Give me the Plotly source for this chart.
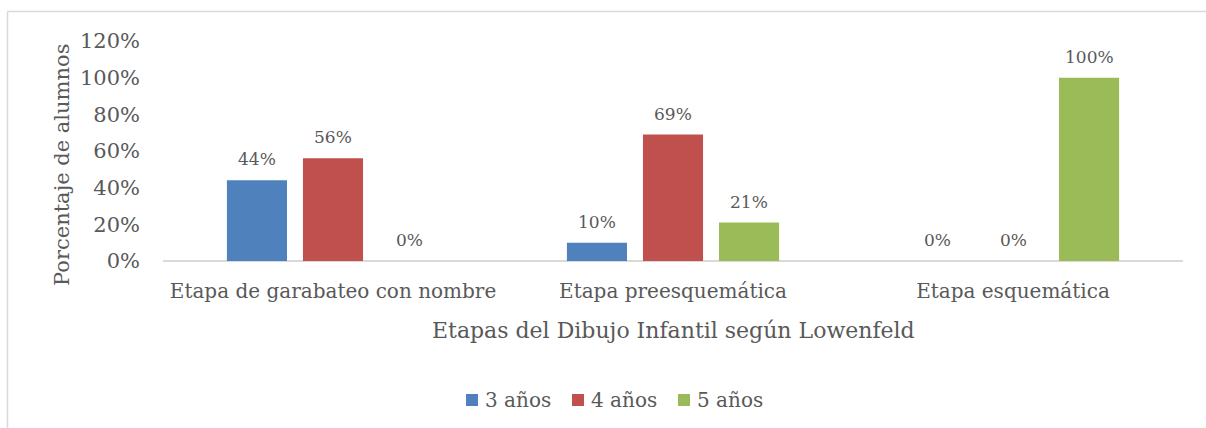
import plotly.graph_objects as go

# Stages (categories) and share of pupils per age group
etapas = ["Etapa de garabateo con nombre", "Etapa preesquemática", "Etapa esquemática"]
series_names = ["3 años", "4 años", "5 años"]
valores_3 = [0.44, 0.10, 0.00]
valores_4 = [0.56, 0.69, 0.00]
valores_5 = [0.00, 0.21, 1.00]
colores = ["#4f81bd", "#c0504d", "#9bbb59"]
y_ticks = [0, 0.2, 0.4, 0.6, 0.8, 1.0, 1.2]

FONT = "DejaVu Serif"
GRIS = "#595959"
BORDE = "#d9d9d9"

W, H = 1206, 428
L, R, T, B = 163, 23, 41, 167
pw, ph = W - L - R, H - T - B


def px_x(px):
    """pixel column -> paper x"""
    return (px - L) / pw


def px_y(py):
    """pixel row -> paper y"""
    return (H - B - py) / ph


series = list(zip(series_names, [valores_3, valores_4, valores_5], colores))

fig = go.Figure()
for nombre, vals, col in series:
    fig.add_trace(go.Bar(
        x=etapas, y=vals, name=nombre,
        marker=dict(color=col, line=dict(width=0)),
        showlegend=False,
    ))

# value labels above each bar (bar slot is 76 px wide inside a group)
slot = 76
for i, (nombre, vals, col) in enumerate(series):
    for cat, v in zip(etapas, vals):
        fig.add_annotation(
            x=cat, y=v, xref="x", yref="y",
            text=f"{v:.0%}", showarrow=False,
            xshift=(i - 1) * slot, yshift=9, yanchor="bottom",
            font=dict(family=FONT, size=17, color=GRIS),
        )

# axis titles
fig.add_annotation(
    x=0.5, y=px_y(330), xref="paper", yref="paper",
    text="Etapas del Dibujo Infantil según Lowenfeld", showarrow=False,
    xanchor="center", yanchor="middle",
    font=dict(family=FONT, size=22, color=GRIS),
)
fig.add_annotation(
    x=px_x(62), y=px_y(165), xref="paper", yref="paper",
    text="Porcentaje de alumnos", showarrow=False, textangle=-90,
    xanchor="center", yanchor="middle",
    font=dict(family=FONT, size=21, color=GRIS),
)

# legend: square swatch followed by the series name
leg_x = [466, 572, 678]
leg_y = 400
for (nombre, vals, col), lx in zip(series, leg_x):
    fig.add_shape(type="rect", xref="paper", yref="paper",
                  x0=px_x(lx), x1=px_x(lx + 12),
                  y0=px_y(leg_y + 6), y1=px_y(leg_y - 6),
                  line=dict(width=0), fillcolor=col)
    fig.add_annotation(
        x=px_x(lx + 17), y=px_y(leg_y), xref="paper", yref="paper",
        text=nombre, showarrow=False, xanchor="left", yanchor="middle",
        font=dict(family=FONT, size=20, color=GRIS),
    )

# outer chart frame: top and left edges (the rest falls outside the page)
fig.add_shape(type="line", xref="paper", yref="paper",
              x0=px_x(7.5), x1=px_x(W), y0=px_y(11.5), y1=px_y(11.5),
              line=dict(color=BORDE, width=1.5), layer="below")
fig.add_shape(type="line", xref="paper", yref="paper",
              x0=px_x(7.5), x1=px_x(7.5), y0=px_y(11.5), y1=px_y(H),
              line=dict(color=BORDE, width=1.5), layer="below")

fig.update_layout(
    width=W, height=H,
    margin=dict(l=L, r=R, t=T, b=B, autoexpand=False),
    paper_bgcolor="white", plot_bgcolor="white",
    barmode="group", bargap=0.329, bargroupgap=0.21,
    font=dict(family=FONT, color=GRIS),
    showlegend=False,
    xaxis=dict(
        showgrid=False, zeroline=False, showline=False, automargin=False,
        ticks="", tickfont=dict(family=FONT, size=20, color=GRIS), tickangle=0,
        ticklabelstandoff=16,
    ),
    yaxis=dict(
        range=[0, 1.2], tickvals=y_ticks, tickformat=".0%", automargin=False,
        showgrid=False, zeroline=True, zerolinecolor=BORDE, zerolinewidth=1.5,
        showline=False, ticks="",
        tickfont=dict(family=FONT, size=21, color=GRIS),
        ticklabelstandoff=22,
    ),
)

fig.write_html("out.html")
